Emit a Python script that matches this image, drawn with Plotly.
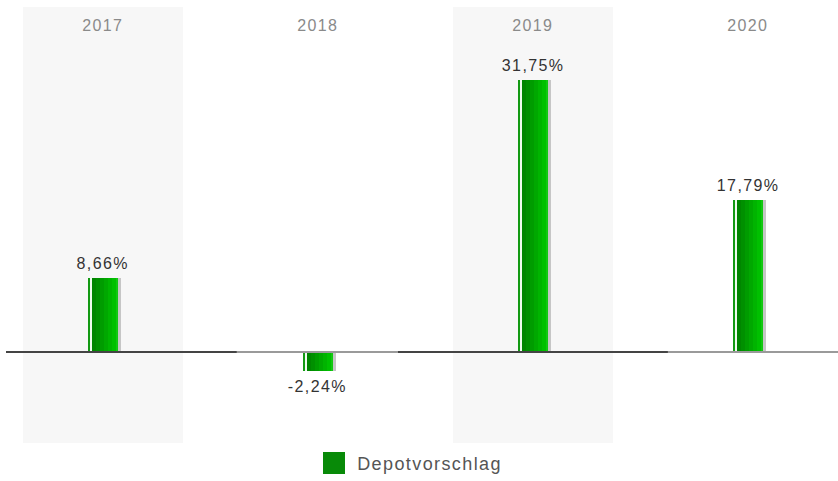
import plotly.graph_objects as go

categories = ['2017', '2018', '2019', '2020']
values = [8.66, -2.24, 31.75, 17.79]
series_name = 'Depotvorschlag'

W, H = 838, 481
ML, MR, MT, MB = 6, 0, 7, 38
XR = [-0.451, 3.419]
YR = [-10.62, 40.27]
px = (XR[1] - XR[0]) / (W - ML - MR)  # category units per pixel
FONT = 'Liberation Sans, Arial, sans-serif'

fig = go.Figure()

# bar strips (pixel offsets from centre) to imitate the shaded bar
strips = [
    (-12, 18, '#c6c6c6'),
    (-15, -12, '#139a13'),
    (-12, -11, '#eefcee'),
    (-11, -7, '#008600'),
    (-7, -3, '#009000'),
    (-3, 1, '#009c00'),
    (1, 5, '#00a800'),
    (5, 9, '#00b400'),
    (9, 13, '#00c000'),
    (13, 15, '#12c812'),
]
for x0, x1, col in strips:
    fig.add_trace(go.Bar(
        x=categories, y=values,
        offset=x0 * px, width=(x1 - x0) * px,
        marker=dict(color=col, line=dict(width=0)),
        hoverinfo='skip', showlegend=False,
    ))

# alternating background bands
for i, c in enumerate(categories):
    if i % 2 == 0:
        fig.add_shape(type='rect', xref='x', yref='paper',
                      x0=i - 0.372, x1=i + 0.372, y0=0, y1=1,
                      fillcolor='#f7f7f7', line=dict(width=0), layer='below')

# zero line segments
segs = [(XR[0], 0.623, '#444444'), (0.623, 1.372, '#9a9a9a'),
        (1.372, 2.628, '#444444'), (2.628, XR[1], '#9a9a9a')]
for a, b, col in segs:
    fig.add_shape(type='line', xref='x', yref='y', x0=a, x1=b, y0=0, y1=0,
                  line=dict(color=col, width=2), layer='above')

# category labels at top
for i, c in enumerate(categories):
    fig.add_annotation(x=i, xref='x', y=1, yref='paper',
                       yanchor='middle', yshift=-18,
                       text=c, showarrow=False,
                       font=dict(family=FONT, size=16, color='#8a8a8a'))

# value labels
for i, (c, v) in enumerate(zip(categories, values)):
    txt = ('%.2f' % v).replace('.', ',') + '%'
    fig.add_annotation(x=i, xref='x', y=v, yref='y',
                       yanchor='bottom' if v >= 0 else 'top',
                       yshift=4 if v >= 0 else -5,
                       text=txt, showarrow=False,
                       font=dict(family=FONT, size=16, color='#333333'))

# legend (manual)
ph = H - MT - MB
pw = W - ML - MR
fig.add_shape(type='rect', xref='paper', yref='paper',
              x0=(323 - ML) / pw, x1=(345 - ML) / pw,
              y0=(H - MB - 452) / ph, y1=(H - MB - 474) / ph,
              fillcolor='#088a08', line=dict(width=0))
fig.add_annotation(x=(365 - ML) / pw, xref='paper', y=(H - MB - 464) / ph, yref='paper',
                   xanchor='left', yanchor='middle', text=series_name, showarrow=False,
                   font=dict(family=FONT, size=18, color='#555555'))

fig.update_layout(
    width=W, height=H,
    margin=dict(l=ML, r=MR, t=MT, b=MB),
    barmode='overlay', bargap=0,
    paper_bgcolor='white', plot_bgcolor='white',
    showlegend=False,
    xaxis=dict(type='category', categoryorder='array', categoryarray=categories,
               range=XR, showticklabels=False, showgrid=False, zeroline=False,
               showline=False, fixedrange=True),
    yaxis=dict(range=YR, showticklabels=False, showgrid=False, zeroline=False,
               showline=False, fixedrange=True),
)

post = """
document.body.style.margin='0';
var gd = document.getElementById('{plot_id}');
function ls(){
  document.querySelectorAll('text.annotation-text').forEach(function(t){
    t.style.letterSpacing='1.4px';
  });
}
ls();
if (gd && gd.on) { gd.on('plotly_afterplot', ls); }
setTimeout(ls, 30);
"""

fig.write_html('out.html', config={'displayModeBar': False}, post_script=post)
